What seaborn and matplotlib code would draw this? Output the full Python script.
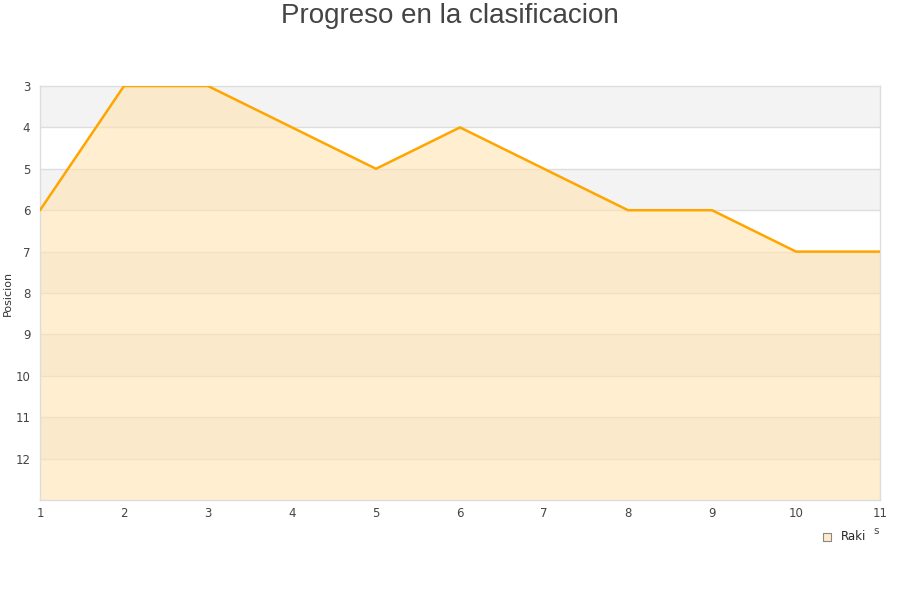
import pandas as pd
import matplotlib.pyplot as plt
import seaborn as sns

# ── Data ────────────────────────────────────────────
jornadas = [1, 2, 3, 4, 5, 6, 7, 8, 9, 10, 11]
posicion = [6, 3, 3, 4, 5, 4, 5, 6, 6, 7, 7]
equipo = 'Raki'

df = pd.DataFrame({'jornada': jornadas, 'posicion': posicion})

sns.set_theme(style='white')
plt.rcParams['font.family'] = 'DejaVu Sans'

fig = plt.figure(figsize=(9, 6), dpi=100)
ax = fig.add_axes([40 / 900, 100 / 600, 840 / 900, 414 / 600])

# alternating horizontal bands
for y0 in range(3, 13):
    col = '#f3f3f3' if (y0 - 3) % 2 == 0 else '#ffffff'
    ax.axhspan(y0, y0 + 1, color=col, zorder=0, lw=0)
for y0 in range(4, 13):
    ax.axhline(y0, color='#dddddd', lw=1, zorder=1)

ax.fill_between(df['jornada'], df['posicion'], 13, color='#ffe3b0',
                alpha=0.6, lw=0, zorder=2)
sns.lineplot(data=df, x='jornada', y='posicion', ax=ax, color='#ffa500',
             lw=1.8, zorder=3, legend=False)

ax.set_xlim(1, 11)
ax.set_ylim(13, 3)
ax.set_xticks(jornadas)
ax.set_yticks(range(3, 13))
ax.tick_params(axis='both', labelsize=8.5, colors='#444444', length=0, pad=7)
ax.tick_params(axis='x', pad=5)
ax.set_xlabel('')
ax.set_ylabel('Posicion', fontsize=8, color='#333333')
ax.yaxis.set_label_coords(-27 / 840, 0.5)
for s in ax.spines.values():
    s.set_color('#dddddd')
    s.set_linewidth(1)

fig.text(0.5, 1 - 16 / 600, 'Progreso en la clasificacion', ha='center',
         va='center', fontsize=20, color='#444444', family='Liberation Sans')

# legend
ax.scatter([], [], marker='s', s=30, color='#ffebc9', edgecolor='#888888',
           lw=0.8, label=equipo)
ax.legend(loc='center left', bbox_to_anchor=(821 / 900, 1 - 537 / 600),
          bbox_transform=fig.transFigure, frameon=False, fontsize=8.5,
          handlelength=1, handletextpad=0.7, borderpad=0, borderaxespad=0)
fig.text(873 / 900, 1 - 531 / 600, 's', fontsize=7.5, color='#444444',
         ha='left', va='center')

fig.savefig('out.png', dpi=100)
